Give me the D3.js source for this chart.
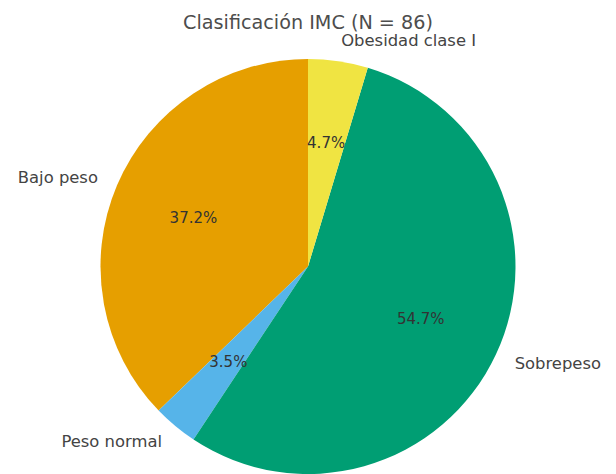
<!DOCTYPE html>
<html><head><meta charset="utf-8">
<script src="https://cdn.jsdelivr.net/npm/d3@7"></script>
<style>body{margin:0;background:#fff}svg{display:block}</style>
</head><body>
<svg id="c" width="616" height="474"></svg>
<script>
const categories = ["Bajo peso", "Peso normal", "Sobrepeso", "Obesidad clase I"];
const counts = [32, 3, 47, 4];
const colors = ["#E69F00", "#56B4E9", "#009E73", "#F0E442"];
const title = "Clasificación IMC (N = 86)";

const W = 616, H = 474;
const cx = 308, cy = 266.5, r = 207.5;
const svg = d3.select("#c");
const total = d3.sum(counts);
const data = categories.map((c, i) => ({cat: c, v: counts[i], col: colors[i]}));

const pie = d3.pie().sort(null).value(d => d.v).startAngle(0).endAngle(-2 * Math.PI);
const arcs = pie(data);
const arc = d3.arc().innerRadius(0).outerRadius(r);
const labelArc = d3.arc().innerRadius(r * 1.1).outerRadius(r * 1.1);
const pctArc = d3.arc().innerRadius(r * 0.6).outerRadius(r * 0.6);

const g = svg.append("g").attr("transform", `translate(${cx},${cy})`);
g.selectAll("path.w").data(arcs).enter().append("path")
  .attr("class", "w").attr("d", arc).attr("fill", d => d.data.col);

g.selectAll("text.lab").data(arcs).enter().append("text")
  .attr("class", "lab")
  .attr("x", d => labelArc.centroid(d)[0])
  .attr("y", d => labelArc.centroid(d)[1])
  .attr("text-anchor", d => labelArc.centroid(d)[0] >= 0 ? "start" : "end")
  .attr("dominant-baseline", "central")
  .attr("font-family", "DejaVu Sans")
  .attr("font-size", 16.4)
  .attr("fill", "#444")
  .text(d => d.data.cat);

g.selectAll("text.pct").data(arcs).enter().append("text")
  .attr("class", "pct")
  .attr("x", d => pctArc.centroid(d)[0])
  .attr("y", d => pctArc.centroid(d)[1])
  .attr("text-anchor", "middle")
  .attr("dominant-baseline", "central")
  .attr("font-family", "DejaVu Sans")
  .attr("font-size", 15)
  .attr("fill", "#333")
  .text(d => (d.data.v / total * 100).toFixed(1) + "%");

svg.append("text")
  .attr("x", cx).attr("y", 22)
  .attr("text-anchor", "middle")
  .attr("dominant-baseline", "central")
  .attr("font-family", "DejaVu Sans")
  .attr("font-size", 19.2)
  .attr("fill", "#4d4d4d")
  .text(title);
</script>
</body></html>
